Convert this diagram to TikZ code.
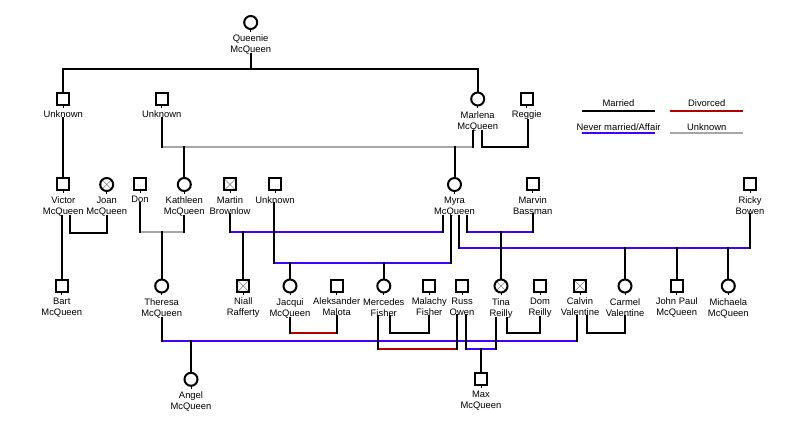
\documentclass[tikz,border=0pt]{standalone}
\usepackage{fontspec}
\setmainfont{Liberation Sans}

\definecolor{affairblue}{RGB}{64,0,255}
\definecolor{divred}{RGB}{176,0,0}
\definecolor{unkgrey}{RGB}{166,166,166}

\tikzset{
  sym/.style={draw,line width=2pt,inner sep=0pt,outer sep=0pt},
  male/.style={sym,rectangle,minimum size=12pt},
  female/.style={sym,circle,minimum size=13pt},
  dead/.style={path picture={\draw[line width=0.6pt,gray]
      (path picture bounding box.north west) -- (path picture bounding box.south east)
      (path picture bounding box.south west) -- (path picture bounding box.north east);}},
  nametag/.style={font=\fontsize{9.4}{11}\selectfont,align=center,inner sep=0pt,anchor=north},
  stub/.style={line width=2pt,line cap=rect},
  married/.style={stub},
  divorced/.style={stub,draw=divred},
  affair/.style={stub,draw=affairblue},
  unknown/.style={stub,draw=unkgrey},
  legline/.style={line width=2pt}
}

% person: name, x, y, style, text
\newcommand\person[5]{%
  \node[#4] (#1) at (#2,#3) {};
  \draw[line width=1pt] (#1.south) -- ++(0,3);
  \node[nametag] (#1T) at ([yshift=-5.5pt]#1.south) {#5};
}
% couple: style, left stub, right stub, level
\newcommand\couple[4]{%
  \draw[#1] (#2 |- 0,#4) -- (#3 |- 0,#4);
  \draw[stub] (#2) -- (#2 |- 0,#4) (#3) -- (#3 |- 0,#4);
}
% child drop from a couple line
\newcommand\kid[2]{\draw[stub] (#1.north |- 0,#2) -- (#1.north);}

\begin{document}
\begin{tikzpicture}[x=1pt,y=-1pt]
\useasboundingbox (0,0) rectangle (800,427);

% generation 1 and 2
\person{queenie}{250.7}{22.5}{female}{Queenie\\McQueen}
\person{unkA}{63.3}{99}{male}{Unknown}
\person{unkB}{161.7}{99}{male}{Unknown}
\person{marlena}{477.7}{99}{female}{Marlena\\McQueen}
\person{reggie}{526.7}{99}{male}{Reggie}

% generation 3
\person{victor}{63.3}{184.5}{male}{Victor\\McQueen}
\person{joan}{106.7}{184.5}{female,dead}{Joan\\McQueen}
\person{don}{140}{184.5}{male}{Don}
\person{kathleen}{184.3}{184.5}{female}{Kathleen\\McQueen}
\person{martin}{230}{184.5}{male,dead}{Martin\\Brownlow}
\person{unkC}{275}{184.5}{male}{Unknown}
\person{myra}{454.5}{184.5}{female}{Myra\\McQueen}
\person{marvin}{532.7}{184.5}{male}{Marvin\\Bassman}
\person{ricky}{750}{184.5}{male}{Ricky\\Bowen}

% generation 4
\person{bart}{61.8}{286}{male}{Bart\\McQueen}
\person{theresa}{161.7}{286}{female}{Theresa\\McQueen}
\person{niall}{243.3}{286}{male,dead}{Niall\\Rafferty}
\person{jacqui}{290}{286}{female}{Jacqui\\McQueen}
\person{aleksander}{336.7}{286}{male}{Aleksander\\Malota}
\person{mercedes}{383.8}{286}{female}{Mercedes\\Fisher}
\person{malachy}{429.3}{286}{male}{Malachy\\Fisher}
\person{russ}{462}{286}{male}{Russ\\Owen}
\person{tina}{501}{286}{female,dead}{Tina\\Reilly}
\person{dom}{540}{286}{male}{Dom\\Reilly}
\person{calvin}{580}{286}{male,dead}{Calvin\\Valentine}
\person{carmel}{625}{286}{female}{Carmel\\Valentine}
\person{johnpaul}{676.7}{286}{male}{John Paul\\McQueen}
\person{michaela}{728.3}{286}{female}{Michaela\\McQueen}

% generation 5
\person{angel}{191}{379.3}{female}{Angel\\McQueen}
\person{max}{481}{379.3}{male}{Max\\McQueen}

% Queenie's children
\draw[stub] (queenieT.south) -- (queenieT.south |- 0,69);
\draw[stub] (unkA.north) |- (marlena.north |- 0,69) -- (marlena.north);
\draw[stub] (unkAT.south) -- (victor.north);

% Marlena
\couple{unknown}{unkBT.south}{[xshift=-4.5pt]marlenaT.south}{147}
\kid{kathleen}{147}
\kid{myra}{147}
\couple{married}{[xshift=4.5pt]marlenaT.south}{[xshift=1.5pt]reggieT.south}{147}

% Victor, Don and Kathleen
\couple{married}{[xshift=6.5pt]victorT.south}{joanT.south}{233.3}
\draw[stub] ([xshift=-1.5pt]victorT.south) -- (bart.north);
\couple{unknown}{donT.south}{kathleenT.south}{231.7}
\kid{theresa}{231.7}

% Myra
\couple{affair}{martinT.south}{[xshift=-11.5pt]myraT.south}{231.7}
\kid{niall}{231.7}
\couple{affair}{[xshift=-1pt]unkCT.south}{[xshift=-3.5pt]myraT.south}{263.3}
\kid{jacqui}{263.3}
\kid{mercedes}{263.3}
\couple{affair}{[xshift=4pt]myraT.south}{rickyT.south}{248.3}
\kid{carmel}{248.3}
\kid{johnpaul}{248.3}
\kid{michaela}{248.3}
\couple{affair}{[xshift=12pt]myraT.south}{marvinT.south}{231.7}
\kid{tina}{231.7}

% generation 4 couples
\couple{affair}{theresaT.south}{[xshift=-3.5pt]calvinT.south}{341}
\kid{angel}{341}
\couple{divorced}{jacquiT.south}{aleksanderT.south}{333}
\couple{married}{[xshift=6pt]mercedesT.south}{malachyT.south}{333.3}
\couple{divorced}{[xshift=-6pt]mercedesT.south}{[xshift=-5pt]russT.south}{349}
\couple{affair}{[xshift=4pt]russT.south}{[xshift=-5.5pt]tinaT.south}{349}
\kid{max}{349}
\couple{married}{[xshift=6pt]tinaT.south}{domT.south}{333.3}
\couple{married}{[xshift=6.5pt]calvinT.south}{carmelT.south}{333.3}

% legend
\node[font=\fontsize{9.4}{11}\selectfont] (lgMar) at (618.5,103.3) {Married};
\node[font=\fontsize{9.4}{11}\selectfont] (lgDiv) at (706.7,103.3) {Divorced};
\node[font=\fontsize{9.4}{11}\selectfont] (lgAff) at (618.5,126.7) {Never married/Affair};
\node[font=\fontsize{9.4}{11}\selectfont] (lgUnk) at (706.7,126.7) {Unknown};
\draw[legline] (582.3,110.7) -- (655,110.7);
\draw[legline,divred] (670,110.7) -- (742.7,110.7);
\draw[legline,affairblue] (582.3,133.3) -- (655,133.3);
\draw[legline,unkgrey] (670,133.3) -- (742.7,133.3);
\end{tikzpicture}
\end{document}
